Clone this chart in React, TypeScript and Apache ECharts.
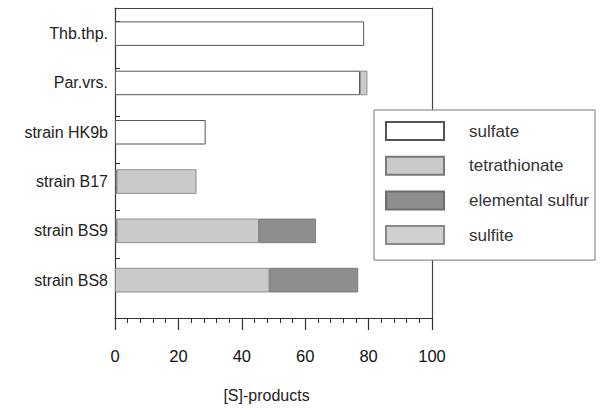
import React, { useEffect, useRef } from "react";
import * as echarts from "echarts";

const categories = ["Thb.thp.", "Par.vrs.", "strain HK9b", "strain B17", "strain BS9", "strain BS8"];
const sulfate = [78.6, 77.3, 28.6, 0.5, 0.5, 0];
const tetrathionate = [0, 2.3, 0, 25.2, 44.9, 48.7];
const elementalSulfur = [0, 0, 0, 0, 18, 28];
const sulfite = [0, 0, 0, 0, 0, 0];
const xTicks = { min: 0, max: 100, interval: 20 };
const axisName = "[S]-products";

const FONT = "'Liberation Sans', Arial, sans-serif";

export default function App() {
  const ref = useRef<HTMLDivElement>(null);
  useEffect(() => {
    if (!ref.current) return;
    const chart = echarts.init(ref.current, undefined, { renderer: "svg" });
    const clean = (a: number[]) => a.map((v) => (v === 0 ? null : v));
    const tickVals: number[] = [];
    categories.forEach((_, i) => {
      tickVals.push(i - 0.25, i + 0.25);
    });
    const mk = (name: string, data: number[], fill: string, border: string, bw: number) => ({
      name,
      type: "bar",
      stack: "s",
      xAxisIndex: 2,
      yAxisIndex: 2,
      barWidth: 24.5,
      data: clean(data),
      itemStyle: { color: fill, borderColor: border, borderWidth: bw },
    });
    const frameLine = { show: true, onZero: false, lineStyle: { color: "#444", width: 1.2 } };
    chart.setOption({
      animation: false,
      backgroundColor: "#fff",
      textStyle: { fontFamily: FONT },
      grid: [
        { left: 115, right: 174, top: 8, bottom: 78 },
        { left: 115, right: 174, top: 9, bottom: 103.2 },
      ],
      legend: {
        orient: "vertical",
        left: 374,
        top: 110,
        padding: [11, 6, 15, 11],
        backgroundColor: "#fff",
        borderColor: "#777",
        borderWidth: 1,
        itemWidth: 58,
        itemHeight: 18,
        itemGap: 14.7,
        icon: "rect",
        textStyle: { fontSize: 17, color: "#333", fontFamily: FONT, padding: [0, 0, 0, 20] },
        data: ["sulfate", "tetrathionate", "elemental sulfur", "sulfite"],
      },
      xAxis: [
        {
          type: "value",
          gridIndex: 0,
          position: "bottom",
          min: xTicks.min,
          max: xTicks.max,
          interval: xTicks.interval,
          name: axisName,
          nameLocation: "middle",
          nameGap: 69,
          nameTextStyle: { fontSize: 16, color: "#222", fontFamily: FONT, padding: [0, 14, 0, 0] },
          axisLine: { show: true, onZero: false, lineStyle: { color: "#333", width: 1.2 } },
          axisTick: { show: true, length: 12, lineStyle: { color: "#333", width: 1.2 } },
          minorTick: { show: true, splitNumber: 5, length: 5, lineStyle: { color: "#333", width: 1 } },
          axisLabel: { fontSize: 16.5, color: "#111", margin: 29, fontFamily: FONT },
          splitLine: { show: false },
        },
        {
          type: "value",
          gridIndex: 0,
          position: "top",
          min: xTicks.min,
          max: xTicks.max,
          axisLine: frameLine,
          axisTick: { show: false },
          axisLabel: { show: false },
          splitLine: { show: false },
        },
        {
          type: "value",
          gridIndex: 1,
          min: xTicks.min,
          max: xTicks.max,
          show: false,
        },
      ],
      yAxis: [
        {
          type: "value",
          gridIndex: 0,
          position: "left",
          inverse: true,
          min: -0.52,
          max: 6.01,
          axisLine: { show: true, onZero: false, lineStyle: { color: "#333", width: 1.2 } },
          axisTick: { show: true, inside: true, length: 5, customValues: tickVals, lineStyle: { color: "#333" } },
          axisLabel: { show: false },
          splitLine: { show: false },
        },
        {
          type: "value",
          gridIndex: 0,
          position: "right",
          inverse: true,
          min: -0.52,
          max: 6.01,
          axisLine: frameLine,
          axisTick: { show: false },
          axisLabel: { show: false },
          splitLine: { show: false },
        },
        {
          type: "category",
          gridIndex: 1,
          inverse: true,
          data: categories,
          axisLine: { show: false },
          axisTick: { show: false },
          axisLabel: { fontSize: 16, color: "#222", margin: 7, fontFamily: FONT },
          splitLine: { show: false },
        },
      ],
      series: [
        mk("sulfate", sulfate, "#ffffff", "#555555", 1),
        mk("tetrathionate", tetrathionate, "#cacaca", "#7a7a7a", 0.8),
        mk("elemental sulfur", elementalSulfur, "#8e8e8e", "#6e6e6e", 0.8),
        mk("sulfite", sulfite, "#d0d0d0", "#8a8a8a", 0.8),
      ],
    });
    return () => chart.dispose();
  }, []);
  return (
    <div
      ref={ref}
      style={{ position: "fixed", left: 0, top: 0, width: 606, height: 408 }}
    />
  );
}
